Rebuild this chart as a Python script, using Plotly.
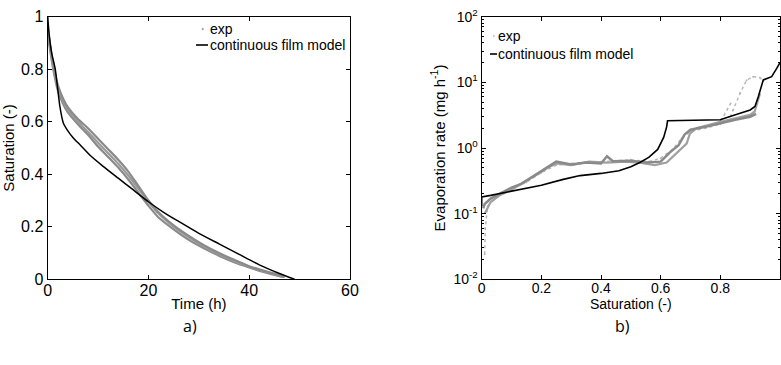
import plotly.graph_objects as go

# ---------------- Panel a) saturation vs time ----------------
t_exp1 = [0, 0.5, 1, 2, 3, 4, 6, 8, 10, 12, 14, 16, 18, 20, 22, 25, 28, 31, 34, 37, 40, 43, 46, 47]
s_exp1 = [0.95, 0.88, 0.82, 0.73, 0.68, 0.645, 0.60, 0.56, 0.52, 0.48, 0.44, 0.395, 0.345, 0.295, 0.25, 0.20, 0.16, 0.125, 0.095, 0.07, 0.048, 0.03, 0.015, 0.01]
t_exp2 = [0, 0.5, 1, 2, 3, 4, 6, 8, 10, 12, 14, 16, 18, 20, 22, 25, 28, 31, 34, 37, 40, 43, 46, 47]
s_exp2 = [0.93, 0.87, 0.81, 0.72, 0.67, 0.635, 0.59, 0.55, 0.505, 0.465, 0.425, 0.38, 0.33, 0.28, 0.235, 0.19, 0.15, 0.118, 0.09, 0.065, 0.045, 0.027, 0.012, 0.008]
t_exp3 = [0, 0.5, 1, 2, 3, 4, 6, 8, 10, 12, 14, 16, 18, 20, 22, 25, 28, 31, 34, 37, 40, 43, 46, 47]
s_exp3 = [0.96, 0.89, 0.83, 0.74, 0.69, 0.655, 0.61, 0.575, 0.535, 0.495, 0.455, 0.41, 0.355, 0.30, 0.255, 0.205, 0.165, 0.13, 0.10, 0.074, 0.05, 0.032, 0.016, 0.012]

t_model = [0, 0.3, 0.8, 1.5, 2.4, 3.1, 4, 5, 6.5, 8.5, 11, 14, 17, 20, 23, 26, 30, 34, 38, 42, 46, 49]
s_model = [1.0, 0.93, 0.86, 0.80, 0.66, 0.595, 0.565, 0.54, 0.51, 0.47, 0.43, 0.385, 0.34, 0.295, 0.255, 0.22, 0.175, 0.135, 0.095, 0.055, 0.022, 0.0]

# ---------------- Panel b) evaporation rate vs saturation ----------------
sat_expA = [0.005, 0.01, 0.03, 0.06, 0.1, 0.13, 0.16, 0.2, 0.23, 0.25, 0.3, 0.35, 0.4, 0.42, 0.44, 0.5, 0.55, 0.6, 0.63, 0.66, 0.68, 0.7, 0.75, 0.8, 0.85, 0.9, 0.92]
rate_expA = [0.12, 0.14, 0.17, 0.2, 0.25, 0.28, 0.34, 0.44, 0.55, 0.62, 0.56, 0.6, 0.58, 0.75, 0.63, 0.64, 0.6, 0.62, 0.85, 1.1, 1.6, 1.9, 2.1, 2.4, 2.7, 3.0, 3.3]
sat_expB = [0.01, 0.03, 0.06, 0.1, 0.14, 0.18, 0.22, 0.25, 0.3, 0.36, 0.42, 0.48, 0.53, 0.58, 0.62, 0.65, 0.687, 0.698, 0.72, 0.8, 0.86, 0.9, 0.915, 0.925, 0.933]
rate_expB = [0.1, 0.15, 0.19, 0.23, 0.3, 0.38, 0.5, 0.58, 0.55, 0.62, 0.6, 0.62, 0.6, 0.55, 0.6, 0.8, 1.17, 1.66, 2.0, 2.5, 2.9, 3.2, 3.6, 5.0, 6.8]
sat_expC = [0.01, 0.012, 0.02, 0.05, 0.1, 0.15, 0.2, 0.25, 0.3, 0.4, 0.5, 0.56, 0.6, 0.64, 0.67, 0.7, 0.75, 0.8, 0.83, 0.843, 0.866, 0.888, 0.91, 0.933, 0.944]
rate_expC = [0.024, 0.06, 0.13, 0.18, 0.24, 0.3, 0.42, 0.55, 0.58, 0.62, 0.66, 0.62, 0.7, 0.95, 1.4, 1.8, 2.0, 2.3, 2.7, 3.8, 6.8, 10.8, 12.2, 11.8, 10.5]
sat_expD = [0.80, 0.81, 0.825, 0.838]
rate_expD = [2.6, 3.0, 4.0, 5.1]

sat_model = [0, 0, 0.03, 0.1, 0.2, 0.27, 0.33, 0.4, 0.46, 0.5, 0.53, 0.56, 0.59, 0.61, 0.62, 0.623, 0.7, 0.8, 0.83, 0.87, 0.9, 0.916, 0.927, 0.944, 0.955, 0.972, 0.989, 1.0]
rate_model = [0.13, 0.18, 0.19, 0.22, 0.27, 0.33, 0.38, 0.41, 0.45, 0.52, 0.6, 0.72, 0.95, 1.45, 2.1, 2.6, 2.65, 2.7, 3.0, 3.4, 3.8, 4.3, 6.0, 10.9, 11.5, 12.2, 16.3, 20.0]

ticks_a_x = [0, 20, 40, 60]
ticks_a_y = [0, 0.2, 0.4, 0.6, 0.8, 1]
ticktext_a_y = ["0", "0.2", "0.4", "0.6", "0.8", "1"]
ticks_b_x = [0, 0.2, 0.4, 0.6, 0.8, 1]
ticktext_b_x = ["0", "0.2", "0.4", "0.6", "0.8", "1"]
ticks_b_y = [0.01, 0.1, 1, 10, 100]
ticktext_b_y = ["10<sup>-2</sup>", "10<sup>-1</sup>", "10<sup>0</sup>", "10<sup>1</sup>", "10<sup>2</sup>"]
minor_b_y = [m * d for d in [0.01, 0.1, 1, 10] for m in [2, 3, 4, 5, 6, 7, 8, 9]]

FONT = "Liberation Sans Narrow, Liberation Sans, Arial, sans-serif"
DARK = "#8a8a8a"
LIGHT = "#b8b8b8"

fig = go.Figure()

# panel a
for tx, sy, col in [(t_exp2, s_exp2, DARK), (t_exp1, s_exp1, "#9a9a9a"), (t_exp3, s_exp3, DARK)]:
    fig.add_trace(go.Scatter(x=tx, y=sy, mode="lines", line=dict(color=col, width=2.2, shape="spline", smoothing=0.6),
                             showlegend=False, xaxis="x", yaxis="y"))
fig.add_trace(go.Scatter(x=t_model, y=s_model, mode="lines", line=dict(color="black", width=1.5, shape="spline", smoothing=0.5),
                         showlegend=False, xaxis="x", yaxis="y"))

# panel b
fig.add_trace(go.Scatter(x=sat_expC, y=rate_expC, mode="lines+markers", line=dict(color=LIGHT, width=1.5, dash="dot"),
                         marker=dict(size=2, color=LIGHT), showlegend=False, xaxis="x2", yaxis="y2"))
fig.add_trace(go.Scatter(x=sat_expD, y=rate_expD, mode="lines", line=dict(color=LIGHT, width=1.5, dash="dot"),
                         showlegend=False, xaxis="x2", yaxis="y2"))
fig.add_trace(go.Scatter(x=sat_expB, y=rate_expB, mode="lines", line=dict(color="#a0a0a0", width=2.2),
                         showlegend=False, xaxis="x2", yaxis="y2"))
fig.add_trace(go.Scatter(x=sat_expA, y=rate_expA, mode="lines", line=dict(color=DARK, width=2.5),
                         showlegend=False, xaxis="x2", yaxis="y2"))
fig.add_trace(go.Scatter(x=sat_model, y=rate_model, mode="lines", line=dict(color="black", width=1.6),
                         showlegend=False, xaxis="x2", yaxis="y2", cliponaxis=False))

axis_common = dict(showline=True, linecolor="black", linewidth=1.3, mirror="ticks", ticks="inside",
                   ticklen=4, tickcolor="black", showgrid=False, zeroline=False, automargin=False,
                   tickfont=dict(family=FONT, size=16, color="black"))
small_tick = dict(family=FONT, size=14, color="black")

fig.update_layout(
    width=781, height=365,
    margin=dict(l=0, r=0, t=0, b=0, autoexpand=False),
    paper_bgcolor="white", plot_bgcolor="white",
    showlegend=False,
    font=dict(family=FONT, color="black"),
    xaxis=dict(domain=[47.7 / 781, 350 / 781], range=[0, 60], tickvals=ticks_a_x,
               title=dict(text="Time (h)", font=dict(family=FONT, size=15), standoff=0),
               anchor="y", **axis_common),
    yaxis=dict(domain=[(365 - 279.3) / 365, (365 - 16.5) / 365], range=[0, 1], tickvals=ticks_a_y, ticktext=ticktext_a_y,
               title=dict(text="Saturation (-)", font=dict(family=FONT, size=15), standoff=6),
               anchor="x", **axis_common),
    xaxis2=dict(domain=[481.7 / 781, 780 / 781], range=[0, 1], tickvals=ticks_b_x, ticktext=ticktext_b_x,
                title=dict(text="Saturation (-)", font=dict(family=FONT, size=14), standoff=0),
                anchor="y2", **{**axis_common, "tickfont": small_tick}),
    yaxis2=dict(domain=[(365 - 279.3) / 365, (365 - 16.7) / 365], type="log", range=[-2, 2], tickvals=ticks_b_y,
                ticktext=ticktext_b_y,
                minor=dict(ticks="inside", ticklen=2, tickcolor="black", tickvals=minor_b_y, showgrid=False),
                title=dict(text="Evaporation rate (mg h<sup>-1</sup>)", font=dict(family=FONT, size=15), standoff=4),
                anchor="x2", **{**axis_common, "tickfont": small_tick}),
)

try:
    fig.update_xaxes(ticklabelstandoff=-4)
except Exception:
    pass

# legends drawn as annotations + shapes in paper coordinates
def legend(x0, y_exp, y_mod, fs):
    fig.add_annotation(x=x0, y=y_exp, xref="paper", yref="paper", text="exp", showarrow=False,
                       xanchor="left", yanchor="middle", font=dict(family=FONT, size=fs, color="black"))
    fig.add_annotation(x=x0, y=y_mod, xref="paper", yref="paper", text="continuous film model", showarrow=False,
                       xanchor="left", yanchor="middle", font=dict(family=FONT, size=fs, color="black"))

legend(208 / 781, 1 - 29 / 365, 1 - 45 / 365, 14)
legend(496 / 781, 1 - 36 / 365, 1 - 54 / 365, 14)
fig.add_shape(type="line", xref="paper", yref="paper", x0=196 / 781, x1=208 / 781, y0=1 - 45 / 365, y1=1 - 45 / 365,
              line=dict(color="black", width=1.6))
fig.add_shape(type="line", xref="paper", yref="paper", x0=490 / 781, x1=497 / 781, y0=1 - 54 / 365, y1=1 - 54 / 365,
              line=dict(color="black", width=1.6))
fig.add_shape(type="circle", xref="paper", yref="paper", x0=202 / 781, x1=203.5 / 781, y0=1 - 29.8 / 365, y1=1 - 28.3 / 365,
              line=dict(color=DARK, width=0.5), fillcolor=DARK)
fig.add_shape(type="circle", xref="paper", yref="paper", x0=493 / 781, x1=494.5 / 781, y0=1 - 36.8 / 365, y1=1 - 35.3 / 365,
              line=dict(color=LIGHT, width=0.5), fillcolor=LIGHT)

fig.add_annotation(x=190 / 781, y=1 - 326 / 365, xref="paper", yref="paper", text="a)", showarrow=False,
                   xanchor="center", yanchor="middle",
                   font=dict(family="Open Sans, sans-serif", size=16, color="black"))
fig.add_annotation(x=622 / 781, y=1 - 326 / 365, xref="paper", yref="paper", text="b)", showarrow=False,
                   xanchor="center", yanchor="middle",
                   font=dict(family="Open Sans, sans-serif", size=16, color="black"))

fig.write_html("out.html", config={"displayModeBar": False},
               post_script="document.body.style.margin='0';document.body.style.overflow='hidden';")
